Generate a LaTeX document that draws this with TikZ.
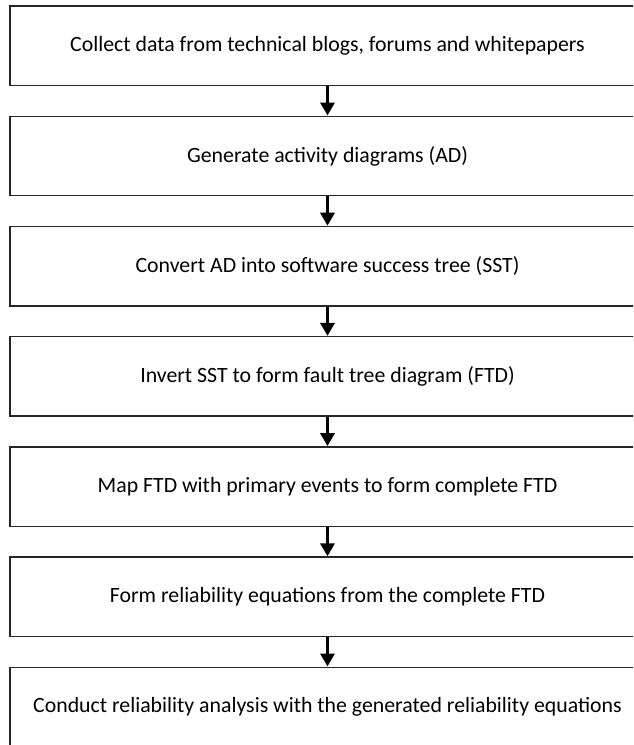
\documentclass[tikz,border=0pt]{standalone}
\usepackage{fontspec}
\setmainfont{Carlito}
\usetikzlibrary{arrows.meta}
\begin{document}
\begin{tikzpicture}[x=1pt,y=-1pt,
  stepbox/.style={draw=black!85,line width=1.4pt,minimum width=635pt,minimum height=79.5pt,inner sep=0pt,font=\fontsize{21.8}{25}\selectfont},
  flow/.style={line width=3.8pt,-{Triangle[width=14pt,length=13pt]}}]
\clip (0,0) rectangle (633,745);
\useasboundingbox (0,0) rectangle (633,745);
\node[stepbox] (b1) at (327.5,45.75) {Collect data from technical blogs, forums and whitepapers};
\node[stepbox] (b2) at (327.5,155.95) {Generate activity diagrams (AD)};
\node[stepbox] (b3) at (327.5,266.15) {Convert AD into software success tree (SST)};
\node[stepbox] (b4) at (327.5,376.35) {Invert SST to form fault tree diagram (FTD)};
\node[stepbox] (b5) at (327.5,486.55) {Map FTD with primary events to form complete FTD};
\node[stepbox] (b6) at (327.5,596.75) {Form reliability equations from the complete FTD};
\node[stepbox] (b7) at (327.5,706.95) {Conduct reliability analysis with the generated reliability equations};
\foreach \a/\b in {b1/b2,b2/b3,b3/b4,b4/b5,b5/b6,b6/b7}
  \draw[flow] (\a.south) -- (\b.north);
\end{tikzpicture}
\end{document}
